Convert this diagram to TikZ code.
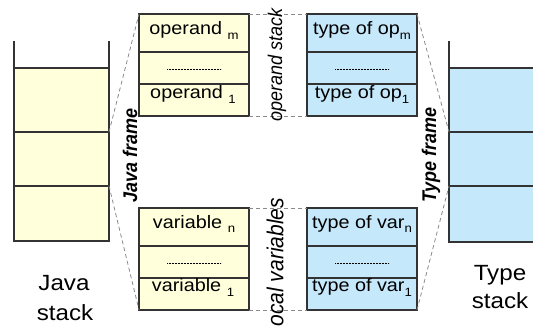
\documentclass[tikz,border=0pt]{standalone}
\usepackage{fontspec}
\usepackage{graphicx}
\setmainfont{Liberation Sans}
\definecolor{ylw}{HTML}{FFFFDC}
\definecolor{blu}{HTML}{C6E8FB}
\definecolor{linec}{HTML}{333333}
\definecolor{dashc}{HTML}{8A8A8A}
\newcommand{\hs}[1]{\scalebox{1.1}[1]{#1}}
\newcommand{\vs}[1]{\scalebox{1}[1.1]{#1}}
\newcommand{\sbs}[1]{\raisebox{-5pt}{\fontsize{12}{13}\selectfont #1}}
\begin{document}
\begin{tikzpicture}[x=1pt,y=-1pt,
  cell/.style={draw=linec, line width=1.4pt, inner sep=0pt, outer sep=0pt, anchor=north west},
  ycell/.style={cell, fill=ylw},
  bcell/.style={cell, fill=blu},
  stackline/.style={draw=linec, line width=1.4pt},
  lbl/.style={font=\fontsize{18}{20}\selectfont, inner sep=0pt, anchor=base},
  biglbl/.style={font=\fontsize{22}{24}\selectfont, inner sep=0pt, anchor=base},
  rotlbl/.style={rotate=90, inner sep=0pt, font=\fontsize{18}{20}\selectfont\itshape},
  dashline/.style={draw=dashc, line width=0.8pt, dash pattern=on 4pt off 3pt},
  dotline/.style={draw=black, line width=0.6pt, dash pattern=on 0.6pt off 0.9pt}
]
\useasboundingbox (0,0) rectangle (533,326);
\clip (0,0) rectangle (533,326);

% Java stack
\node[ycell, minimum width=95pt, minimum height=64pt] (J0) at (14,68) {};
\node[ycell, minimum width=95pt, minimum height=54pt] (J1) at (14,132) {};
\node[ycell, minimum width=95pt, minimum height=55pt] (J2) at (14,186) {};
\draw[stackline] (J0.north west) -- ++(0,-27) (J0.north east) -- ++(0,-27);
\node[biglbl] (jl1) at (64,290) {\hs{Java}};
\node[biglbl] (jl2) at (65,320) {\hs{stack}};

% Type stack
\node[bcell, minimum width=120pt, minimum height=64pt] (T0) at (449,68) {};
\node[bcell, minimum width=120pt, minimum height=54pt] (T1) at (449,132) {};
\node[bcell, minimum width=120pt, minimum height=56pt] (T2) at (449,186) {};
\draw[stackline] (T0.north west) -- ++(0,-27);
\node[biglbl] (tl1) at (500,280) {\hs{Type}};
\node[biglbl] (tl2) at (500,308) {\hs{stack}};

% operand stack (Java)
\node[ycell, minimum width=110pt, minimum height=38pt] (O1) at (139,14) {};
\node[ycell, minimum width=110pt, minimum height=32pt] (O2) at (139,52) {};
\node[ycell, minimum width=110pt, minimum height=32pt] (O3) at (139,84) {};
% operand stack (types)
\node[bcell, minimum width=110pt, minimum height=38pt] (P1) at (307,14) {};
\node[bcell, minimum width=110pt, minimum height=32pt] (P2) at (307,52) {};
\node[bcell, minimum width=110pt, minimum height=32pt] (P3) at (307,84) {};
% local variables (Java)
\node[ycell, minimum width=110pt, minimum height=38pt] (V1) at (139,208) {};
\node[ycell, minimum width=110pt, minimum height=32pt] (V2) at (139,246) {};
\node[ycell, minimum width=110pt, minimum height=32pt] (V3) at (139,278) {};
% local variables (types)
\node[bcell, minimum width=110pt, minimum height=38pt] (W1) at (307,208) {};
\node[bcell, minimum width=110pt, minimum height=32pt] (W2) at (307,246) {};
\node[bcell, minimum width=110pt, minimum height=32pt] (W3) at (307,278) {};

% dotted placeholders
\foreach \c in {O2,P2,V2,W2}{
  \draw[dotline] ([xshift=-27pt,yshift=-1pt]\c.center) -- ([xshift=27pt,yshift=-1pt]\c.center);
}

% cell texts
\node[lbl] (to1) at (194,35) {\hs{operand \sbs{m}}};
\node[lbl] (to3) at (193,99) {\hs{operand \sbs{1}}};
\node[lbl] (tp1) at (362,35) {\hs{type of op\sbs{m}}};
\node[lbl] (tp3) at (362,99) {\hs{type of op\sbs{1}}};
\node[lbl] (tv1) at (194,228) {\hs{variable \sbs{n}}};
\node[lbl] (tv3) at (193,291) {\hs{variable \sbs{1}}};
\node[lbl] (tw1) at (362,228) {\hs{type of var\sbs{n}}};
\node[lbl] (tw3) at (362,291) {\hs{type of var\sbs{1}}};

% dashed connectors
\draw[dashline] (J1.north east) -- (O1.north west);
\draw[dashline] (J1.south east) -- (V3.south west);
\draw[dashline] (O1.north east) -- (P1.north west);
\draw[dashline] (O3.south east) -- (P3.south west);
\draw[dashline] (V1.north east) -- (W1.north west);
\draw[dashline] (V3.south east) -- (W3.south west);
\draw[dashline] (P1.north east) -- (T1.north west);
\draw[dashline] (W3.south east) -- (T1.south west);

% rotated labels
\node[rotlbl, font=\fontsize{18}{20}\selectfont\bfseries\itshape] (jf) at (130,155) {\vs{Java frame}};
\node[rotlbl, font=\fontsize{18}{20}\selectfont\bfseries\itshape] (tf) at (431,155) {\vs{Type frame}};
\node[rotlbl] (os) at (277,65) {\vs{operand stack}};
\node[rotlbl, font=\fontsize{21}{23}\selectfont\itshape] (lv) at (275,264.5) {\vs{local variables}};
\end{tikzpicture}
\end{document}
